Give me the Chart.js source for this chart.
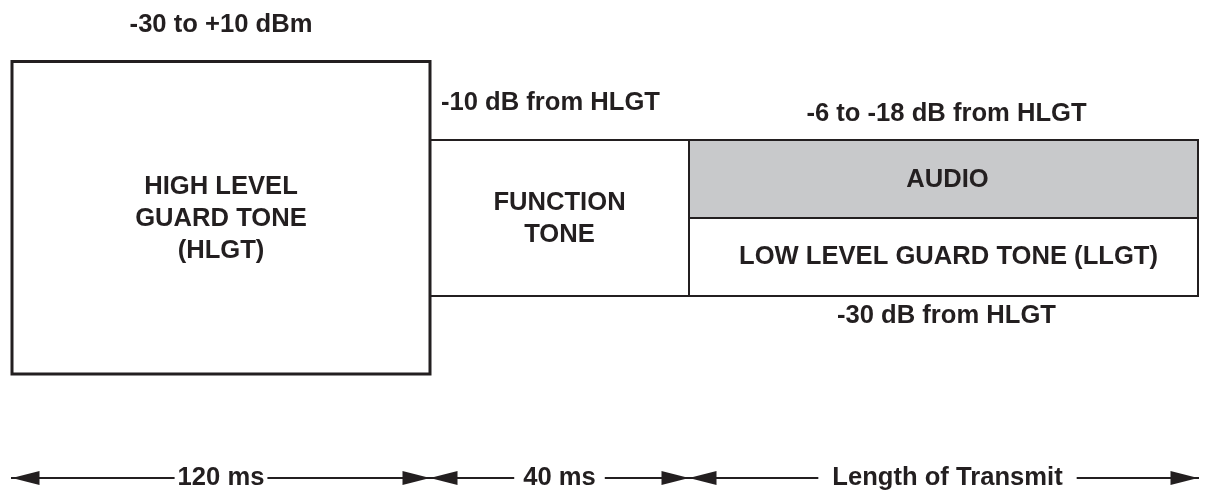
<!DOCTYPE html>
<html>
<head>
<meta charset="utf-8">
<script src="https://cdn.jsdelivr.net/npm/chart.js@4.4.0/dist/chart.umd.min.js"></script>
<style>
  html, body { margin: 0; padding: 0; background: #fff; }
  #wrap { width: 1209px; height: 491px; position: relative; }
</style>
</head>
<body>
<div id="wrap"><canvas id="tone-diagram"></canvas></div>
<script>
// schematic units: x = along the transmission, y = relative level (bottom = 0)
const segmentEdges = [1.2, 43.0, 68.9, 119.8];
const segmentLabels = ["120 ms", "40 ms", "Length of Transmit"];

const hlgtLevel = [11.7, 42.95];      // bottom, top
const functionLevel = [19.5, 35.1];
const audioLevel = [27.3, 35.1];
const llgtLevel = [19.5, 27.3];
const arrowLevel = 1.3;

const hlgtText = ["HIGH LEVEL", "GUARD TONE", "(HLGT)"];
const functionText = ["FUNCTION", "TONE"];
const audioText = ["AUDIO"];
const llgtText = ["LOW LEVEL GUARD TONE (LLGT)"];
const levelText = ["-30 to +10 dBm", "-10 dB from HLGT", "-6 to -18 dB from HLGT", "-30 dB from HLGT"];

const ink = "#231f20";
const grey = "#c8c9cb";
const labelFont = 'bold 25.6px "Liberation Sans", Arial, sans-serif';
const linePitch = 32;

const pt = (x, y) => ({x: x, y: y});

// arrow head drawn once, used as point style (tip sits on the point)
const head = document.createElement("canvas");
head.width = 56;
head.height = 16;
const hctx = head.getContext("2d");
hctx.fillStyle = ink;
hctx.beginPath();
hctx.moveTo(28, 8);
hctx.lineTo(0.5, 1);
hctx.lineTo(0.5, 15);
hctx.closePath();
hctx.fill();

const e = segmentEdges;

function lineSet(points, width) {
  return {
    data: points,
    showLine: true,
    borderColor: ink,
    borderWidth: width,
    borderCapStyle: "square",
    borderJoinStyle: "miter",
    pointRadius: 0,
    fill: false,
    order: 1
  };
}

const datasets = [
  // grey audio band
  {
    data: [pt(e[2], audioLevel[1]), pt(e[3], audioLevel[1])],
    showLine: true,
    borderWidth: 0,
    borderColor: "rgba(0,0,0,0)",
    backgroundColor: grey,
    pointRadius: 0,
    fill: {value: audioLevel[0]},
    order: 5
  },
  lineSet([pt(e[0], hlgtLevel[0]), pt(e[0], hlgtLevel[1]), pt(e[1], hlgtLevel[1]),
           pt(e[1], hlgtLevel[0]), pt(e[0], hlgtLevel[0])], 3),
  lineSet([pt(e[1], functionLevel[1]), pt(e[3], functionLevel[1]),
           pt(e[3], functionLevel[0]), pt(e[1], functionLevel[0])], 2),
  lineSet([pt(e[2], functionLevel[0]), pt(e[2], functionLevel[1])], 2),
  lineSet([pt(e[2], audioLevel[0]), pt(e[3], llgtLevel[1])], 2),
  // dimension line
  lineSet([pt(e[0], arrowLevel), pt(e[3], arrowLevel)], 2),
  {
    data: [pt(e[0], arrowLevel), pt(e[1], arrowLevel), pt(e[1], arrowLevel),
           pt(e[2], arrowLevel), pt(e[2], arrowLevel), pt(e[3], arrowLevel)],
    showLine: false,
    pointStyle: head,
    pointRotation: [180, 0, 180, 0, 180, 0],
    pointRadius: 10,
    order: 0
  }
];

const textPlugin = {
  id: "diagramText",
  afterDatasetsDraw(chart) {
    const {ctx} = chart;
    const xs = chart.scales.x, ys = chart.scales.y;
    const px = v => xs.getPixelForValue(v);
    const py = v => ys.getPixelForValue(v);
    ctx.save();
    ctx.font = labelFont;
    ctx.fillStyle = ink;
    ctx.textBaseline = "middle";
    ctx.textAlign = "center";

    const block = (lines, cx, cy) => {
      lines.forEach((t, i) => ctx.fillText(t, cx, cy + (i - (lines.length - 1) / 2) * linePitch));
    };
    block(hlgtText, (px(e[0]) + px(e[1])) / 2, (py(hlgtLevel[0]) + py(hlgtLevel[1])) / 2 + 1.5);
    block(functionText, (px(e[1]) + px(e[2])) / 2, (py(functionLevel[0]) + py(functionLevel[1])) / 2 + 1);
    block(audioText, (px(e[2]) + px(e[3])) / 2 + 4, (py(audioLevel[0]) + py(audioLevel[1])) / 2 + 1);
    block(llgtText, (px(e[2]) + px(e[3])) / 2 + 5, (py(llgtLevel[0]) + py(llgtLevel[1])) / 2);

    // level notes round the boxes
    ctx.fillText(levelText[0], (px(e[0]) + px(e[1])) / 2, py(hlgtLevel[1]) - 37);
    ctx.textAlign = "left";
    ctx.fillText(levelText[1], px(e[1]) + 11, py(functionLevel[1]) - 37);
    ctx.textAlign = "center";
    ctx.fillText(levelText[2], (px(e[2]) + px(e[3])) / 2 + 3, py(audioLevel[1]) - 26);
    ctx.fillText(levelText[3], (px(e[2]) + px(e[3])) / 2 + 3, py(llgtLevel[0]) + 20);

    // dimension labels with a white gap in the line
    const gaps = [3, 9, 14];
    segmentLabels.forEach((t, i) => {
      const cx = (px(e[i]) + px(e[i + 1])) / 2 + (i === 2 ? 4 : 0);
      const cy = py(arrowLevel);
      const w = ctx.measureText(t).width + gaps[i] * 2;
      ctx.fillStyle = "#fff";
      ctx.fillRect(cx - w / 2, cy - 4, w, 8);
      ctx.fillStyle = ink;
      ctx.fillText(t, cx, cy);
    });
    ctx.restore();
  }
};

new Chart(document.getElementById("tone-diagram"), {
  type: "scatter",
  data: {datasets: datasets},
  options: {
    responsive: true,
    maintainAspectRatio: false,
    animation: false,
    events: [],
    layout: {padding: 0, autoPadding: false},
    scales: {
      x: {type: "linear", min: 0, max: 120.9, display: false},
      y: {type: "linear", min: 0, max: 49.1, display: false}
    },
    plugins: {
      legend: {display: false},
      tooltip: {enabled: false}
    }
  },
  plugins: [textPlugin]
});
</script>
</body>
</html>
